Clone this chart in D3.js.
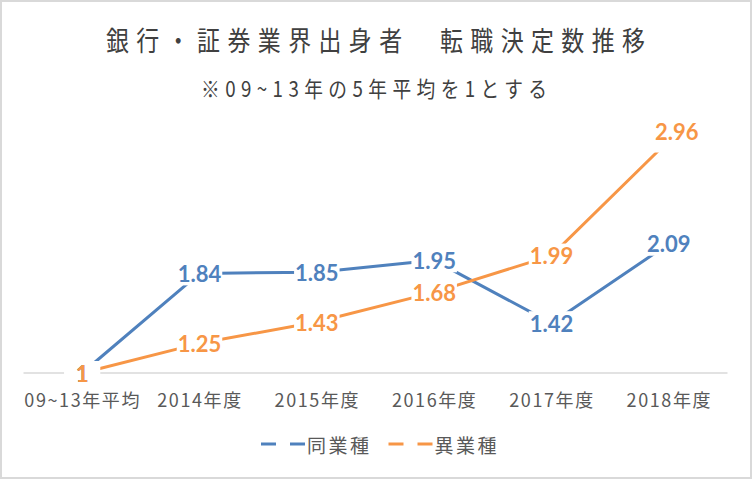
<!DOCTYPE html>
<html>
<head>
<meta charset="utf-8">
<script src="https://cdn.jsdelivr.net/npm/d3@7"></script>
<style>
  html, body { margin: 0; padding: 0; background: #fff; }
  svg { display: block; }
</style>
</head>
<body>
<div id="chart"></div>
<script>
// ---- data ----
const categories = ["09~13年平均", "2014年度", "2015年度", "2016年度", "2017年度", "2018年度"];
const sameIndustry = [1, 1.84, 1.85, 1.95, 1.42, 2.09];
const otherIndustry = [1, 1.25, 1.43, 1.68, 1.99, 2.96];
const seriesNames = ["同業種", "異業種"];
const titleText = "銀行・証券業界出身者　転職決定数推移";
const subtitleText = "※09~13年の5年平均を1とする";

// ---- layout ----
const W = 752, H = 479;
const colors = ["#4F81BD", "#F79646"];
const jp = "'Noto Sans CJK JP', 'Noto Sans', sans-serif";

const svg = d3.select("#chart").append("svg")
  .attr("width", W).attr("height", H);

svg.append("rect").attr("x", 0).attr("y", 0).attr("width", W).attr("height", H).attr("fill", "#fff");
svg.append("rect").attr("x", 1).attr("y", 1).attr("width", W - 2).attr("height", H - 2)
  .attr("fill", "none").attr("stroke", "#D9D9D9").attr("stroke-width", 2);

// title (condensed look: scale horizontally)
function condensedText(txt, x0, yc, width, size, sx) {
  const g = svg.append("g").attr("transform", `translate(${x0},${yc}) scale(${sx},1)`);
  g.append("text").attr("x", 0).attr("y", 0)
    .attr("dominant-baseline", "central")
    .attr("textLength", width / sx).attr("lengthAdjust", "spacing")
    .attr("font-family", jp).attr("font-size", size).attr("fill", "#404040")
    .text(txt);
}
condensedText(titleText, 106, 39, 539, 27, 0.85);
condensedText(subtitleText, 201, 87, 346, 22, 0.85);

const x = d3.scalePoint().domain(categories).range([23.5, 727.5]).padding(0.5);
const y = d3.scaleLinear().domain([1, 3]).range([373, 135.8]);

// x axis
const xAxis = d3.axisBottom(x).tickSize(0).tickPadding(0);
const gx = svg.append("g").attr("transform", `translate(0,${y(1)})`).call(xAxis);
gx.select(".domain").attr("stroke", "#D9D9D9").attr("stroke-width", 1.5)
  .attr("d", `M23.5,0H727.5`);
gx.selectAll(".tick text")
  .attr("y", 26).attr("dy", null)
  .attr("dominant-baseline", "central")
  .attr("font-family", jp).attr("font-size", 18).attr("letter-spacing", 1.6)
  .attr("fill", "#595959");

const series = [sameIndustry, otherIndustry];
const line = d3.line().x((d, i) => x(categories[i])).y(d => y(d));

series.forEach((vals, s) => {
  svg.append("path").datum(vals)
    .attr("d", line)
    .attr("fill", "none").attr("stroke", colors[s]).attr("stroke-width", 3)
    .attr("stroke-linejoin", "round");
});

// label boxes and texts
const labelFont = "Lato, 'Open Sans', sans-serif";
const labelLayer = svg.append("g");
const textLayer = svg.append("g");
series.forEach((vals, s) => {
  vals.forEach((v, i) => {
    const px = x(categories[i]), py = y(v);
    const t = textLayer.append("text")
      .attr("text-anchor", "middle").attr("dominant-baseline", "central")
      .attr("font-family", labelFont).attr("font-weight", 700).attr("font-size", 22)
      .attr("fill", colors[s])
      .text(String(v));
    // label would collide with the top of the plot: nudge it up/right
    let dx = 0, dy = 0;
    if (py < y(2.9)) { dx = 8; dy = -9; }
    t.attr("x", px + dx).attr("y", py + dy);
    const w = Math.max(t.node().getComputedTextLength() + 2, 36);
    labelLayer.append("rect")
      .attr("x", px - w / 2).attr("y", py - 12)
      .attr("width", w).attr("height", 24)
      .attr("fill", "#fff");
  });
});

// legend
const legend = svg.append("g");
const legendStarts = [261, 388.5];
seriesNames.forEach((name, s) => {
  const lx = legendStarts[s];
  legend.append("line")
    .attr("x1", lx).attr("x2", lx + 44).attr("y1", 444).attr("y2", 444)
    .attr("stroke", colors[s]).attr("stroke-width", 3)
    .attr("stroke-dasharray", "15,14");
  legend.append("text")
    .attr("x", lx + 46).attr("y", 444)
    .attr("dominant-baseline", "central")
    .attr("textLength", 62).attr("lengthAdjust", "spacing")
    .attr("font-family", jp).attr("font-size", 19).attr("fill", "#595959")
    .text(name);
});
</script>
</body>
</html>
